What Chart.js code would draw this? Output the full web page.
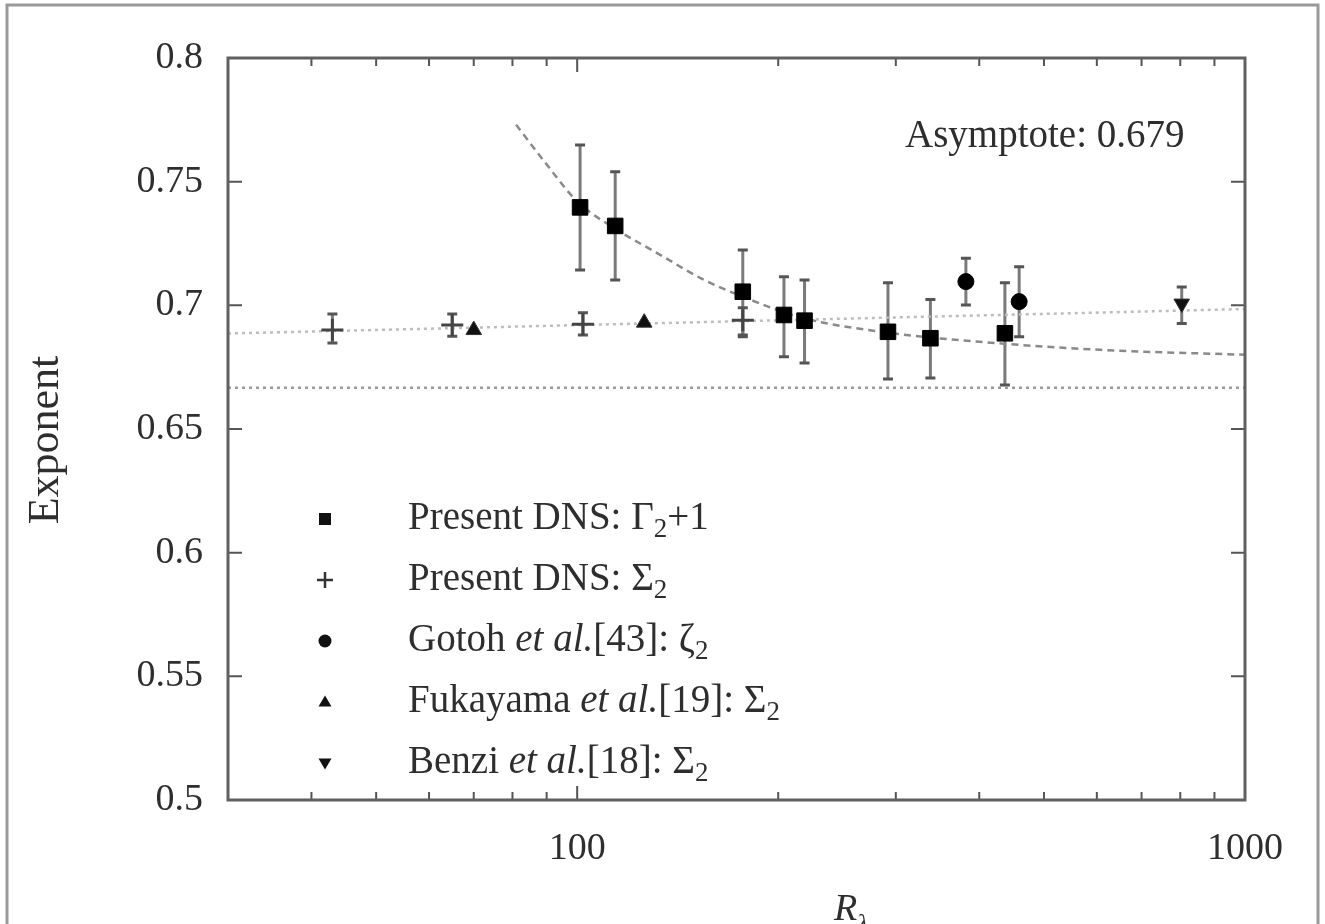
<!DOCTYPE html>
<html lang="en">
<head>
<meta charset="UTF-8">
<title>Exponent vs R_lambda</title>
<script src="https://cdn.jsdelivr.net/npm/chart.js"></script>
<style>
  html, body { margin: 0; padding: 0; background: #fff; overflow: hidden; }
  canvas { display: block; }
</style>
</head>
<body>
<canvas id="chart" width="1325" height="924"></canvas>
<script>
// Present DNS: Gamma_2 + 1 (with error bars)
const gammaR  = [101, 114, 177, 204, 219, 292, 338, 437];
const gammaY  = [0.7396, 0.7321, 0.7055, 0.6961, 0.6938, 0.6893, 0.6867, 0.6887];
const gammaLo = [0.7143, 0.7102, 0.6873, 0.6792, 0.6767, 0.6702, 0.6706, 0.6678];
const gammaHi = [0.7648, 0.7540, 0.7224, 0.7116, 0.7102, 0.7091, 0.7024, 0.7091];

// Present DNS: Sigma_2
const sigmaR  = [43, 65, 102, 177];
const sigmaY  = [0.690, 0.692, 0.6924, 0.694];
const sigmaLo = [0.6848, 0.6875, 0.688, 0.688];
const sigmaHi = [0.6965, 0.6965, 0.697, 0.699];

// Gotoh et al. [43]: zeta_2
const gotohR  = [382, 459];
const gotohY  = [0.7096, 0.7015];
const gotohLo = [0.7001, 0.6873];
const gotohHi = [0.7190, 0.7156];

// Fukayama et al. [19]: Sigma_2
const fukaR = [70, 126];
const fukaY = [0.690, 0.693];

// Benzi et al. [18]: Sigma_2
const benziR  = [804];
const benziY  = [0.7007];
const benziLo = [0.6927];
const benziHi = [0.7074];

// fitted curve
const fitR = [81, 90, 100, 114, 134, 153, 177, 217, 291, 435, 607, 1000];
const fitY = [0.773, 0.757, 0.742, 0.731, 0.720, 0.711, 0.7035, 0.695, 0.689, 0.6845, 0.682, 0.680];

// dotted reference lines
const trendR = [30, 1000];
const trendY = [0.6886, 0.6985];
const k41R = [30, 1000];
const k41Y = [0.6667, 0.6667];

// axes
const yTicks = [0.5, 0.55, 0.6, 0.65, 0.7, 0.75, 0.8];
const xTicks = [100, 1000];
const xMinorTicks = [40, 50, 60, 70, 80, 90, 200, 300, 400, 500, 600, 700, 800, 900];

const legendRuns = [
  [{t: 'Present DNS: \u0393'}, {t: '2', sub: true}, {t: '+1'}],
  [{t: 'Present DNS: \u03a3'}, {t: '2', sub: true}],
  [{t: 'Gotoh '}, {t: 'et al.', it: true}, {t: '[43]: \u03b6'}, {t: '2', sub: true}],
  [{t: 'Fukayama '}, {t: 'et al.', it: true}, {t: '[19]: \u03a3'}, {t: '2', sub: true}],
  [{t: 'Benzi '}, {t: 'et al.', it: true}, {t: '[18]: \u03a3'}, {t: '2', sub: true}]
];
const legendMarks = ['rect', 'cross', 'circle', 'triangle', 'triangleDown'];

const SERIF = '"Liberation Serif", "DejaVu Serif", serif';
const TEXT = '#2e2e2e';

const pts = (xs, ys) => xs.map((x, i) => ({x: x, y: ys[i]}));

function drawRuns(ctx, runs, x, y, size) {
  runs.forEach(r => {
    const fs = r.sub ? Math.round(size * 0.68) : size;
    ctx.font = (r.it ? 'italic ' : '') + fs + 'px ' + SERIF;
    ctx.fillText(r.t, x, y + (r.sub ? size * 0.28 : 0));
    x += ctx.measureText(r.t).width;
  });
}

function drawMark(ctx, kind, x, y, r) {
  ctx.beginPath();
  if (kind === 'rect') {
    ctx.fillRect(x - r, y - r, 2 * r, 2 * r);
  } else if (kind === 'cross') {
    ctx.moveTo(x - r, y); ctx.lineTo(x + r, y);
    ctx.moveTo(x, y - r); ctx.lineTo(x, y + r);
    ctx.stroke();
  } else if (kind === 'circle') {
    ctx.arc(x, y, r, 0, Math.PI * 2); ctx.fill();
  } else if (kind === 'triangle') {
    ctx.moveTo(x, y - r); ctx.lineTo(x + r, y + r * 0.7); ctx.lineTo(x - r, y + r * 0.7);
    ctx.closePath(); ctx.fill();
  } else {
    ctx.moveTo(x, y + r); ctx.lineTo(x + r, y - r * 0.7); ctx.lineTo(x - r, y - r * 0.7);
    ctx.closePath(); ctx.fill();
  }
}

const errorSets = [
  {r: gammaR, lo: gammaLo, hi: gammaHi},
  {r: sigmaR, lo: sigmaLo, hi: sigmaHi},
  {r: gotohR, lo: gotohLo, hi: gotohHi},
  {r: benziR, lo: benziLo, hi: benziHi}
];

const errorBars = {
  id: 'errorBars',
  beforeDatasetsDraw(chart) {
    const ctx = chart.ctx, xs = chart.scales.x, ys = chart.scales.y;
    ctx.save();
    errorSets.forEach(s => {
      s.r.forEach((r, i) => {
        const px = xs.getPixelForValue(r);
        const top = ys.getPixelForValue(s.hi[i]);
        const bot = ys.getPixelForValue(s.lo[i]);
        ctx.strokeStyle = '#7a7a7a';
        ctx.lineWidth = 3;
        ctx.beginPath(); ctx.moveTo(px, top); ctx.lineTo(px, bot); ctx.stroke();
        ctx.strokeStyle = '#555';
        ctx.beginPath();
        ctx.moveTo(px - 5, top); ctx.lineTo(px + 5, top);
        ctx.moveTo(px - 5, bot); ctx.lineTo(px + 5, bot);
        ctx.stroke();
      });
    });
    ctx.restore();
  }
};

const frame = {
  id: 'frame',
  beforeDraw(chart) {
    const ctx = chart.ctx;
    ctx.save();
    ctx.fillStyle = '#fff';
    ctx.fillRect(0, 0, chart.width, chart.height);
    ctx.strokeStyle = '#9a9a9a';
    ctx.lineWidth = 3;
    ctx.strokeRect(7, 5, 1311, 940);
    ctx.restore();
  },
  afterDraw(chart) {
    const ctx = chart.ctx, a = chart.chartArea, xs = chart.scales.x, ys = chart.scales.y;
    ctx.save();
    // ticks on all four sides, pointing inward
    ctx.strokeStyle = '#555';
    ctx.lineWidth = 2;
    ctx.beginPath();
    yTicks.forEach(v => {
      const py = ys.getPixelForValue(v);
      ctx.moveTo(a.left, py); ctx.lineTo(a.left + 14, py);
      ctx.moveTo(a.right, py); ctx.lineTo(a.right - 14, py);
    });
    xTicks.forEach(v => {
      const px = xs.getPixelForValue(v);
      ctx.moveTo(px, a.bottom); ctx.lineTo(px, a.bottom - 14);
      ctx.moveTo(px, a.top); ctx.lineTo(px, a.top + 14);
    });
    xMinorTicks.forEach(v => {
      const px = xs.getPixelForValue(v);
      ctx.moveTo(px, a.bottom); ctx.lineTo(px, a.bottom - 8);
      ctx.moveTo(px, a.top); ctx.lineTo(px, a.top + 8);
    });
    ctx.stroke();
    // plot box
    ctx.strokeStyle = '#606060';
    ctx.lineWidth = 3;
    ctx.strokeRect(a.left, a.top, a.right - a.left, a.bottom - a.top);

    // legend
    ctx.textBaseline = 'middle';
    ctx.textAlign = 'left';
    const rowY = [519, 580, 641, 702, 763];
    legendRuns.forEach((runs, i) => {
      ctx.fillStyle = '#111';
      ctx.strokeStyle = '#333';
      ctx.lineWidth = 2.5;
      const size = legendMarks[i] === 'rect' ? 6 : legendMarks[i] === 'cross' ? 8 : 6.5;
      drawMark(ctx, legendMarks[i], 325, rowY[i], size);
      ctx.fillStyle = TEXT;
      drawRuns(ctx, runs, 408, rowY[i], 39);
    });

    // annotation
    ctx.fillStyle = TEXT;
    ctx.font = '39px ' + SERIF;
    ctx.fillText('Asymptote: 0.679', 905, 137);

    // y title
    ctx.save();
    ctx.translate(46, 440);
    ctx.rotate(-Math.PI / 2);
    ctx.textAlign = 'center';
    ctx.font = '44px ' + SERIF;
    ctx.fillText('Exponent', 0, 0);
    ctx.restore();

    // x title
    ctx.textAlign = 'left';
    ctx.textBaseline = 'alphabetic';
    ctx.font = 'italic 38px ' + SERIF;
    ctx.fillText('R', 834, 920);
    ctx.font = 'italic 26px ' + SERIF;
    ctx.fillText('\u03bb', 857, 932);
    ctx.restore();
  }
};

new Chart(document.getElementById('chart'), {
  type: 'scatter',
  data: {
    datasets: [
      {label: 'Present DNS: \u03932+1', data: pts(gammaR, gammaY), pointStyle: 'rect', pointRadius: 11,
       backgroundColor: '#000', borderColor: '#000', borderWidth: 1, order: 1},
      {label: 'Present DNS: \u03a32', data: pts(sigmaR, sigmaY), pointStyle: 'cross', pointRadius: 11,
       borderColor: '#444', borderWidth: 3, order: 2},
      {label: 'Gotoh et al.[43]: \u03b62', data: pts(gotohR, gotohY), pointStyle: 'circle', pointRadius: 8,
       backgroundColor: '#000', borderColor: '#000', borderWidth: 1, order: 1},
      {label: 'Fukayama et al.[19]: \u03a32', data: pts(fukaR, fukaY), pointStyle: 'triangle', pointRadius: 9,
       backgroundColor: '#111', borderColor: '#333', borderWidth: 1, order: 1},
      {label: 'Benzi et al.[18]: \u03a32', data: pts(benziR, benziY), pointStyle: 'triangle', rotation: 180,
       pointRadius: 9, backgroundColor: '#111', borderColor: '#333', borderWidth: 1, order: 1},
      {label: 'fit', data: pts(fitR, fitY), showLine: true, pointRadius: 0, borderColor: '#8a8a8a',
       borderWidth: 2.5, borderDash: [7, 5], cubicInterpolationMode: 'monotone', order: 10},
      {label: 'trend', data: pts(trendR, trendY), showLine: true, pointRadius: 0, borderColor: '#bdbdbd',
       borderWidth: 2.5, borderDash: [3, 4], order: 11},
      {label: 'K41', data: pts(k41R, k41Y), showLine: true, pointRadius: 0, borderColor: '#9a9a9a',
       borderWidth: 2.5, borderDash: [3, 4], order: 11}
    ]
  },
  options: {
    responsive: false,
    animation: false,
    layout: {padding: {left: 0, top: 58, right: 80, bottom: 0}},
    plugins: {legend: {display: false}, tooltip: {enabled: false}},
    scales: {
      x: {
        type: 'logarithmic', min: 30, max: 1000,
        grid: {display: false, drawTicks: false},
        border: {display: false},
        afterBuildTicks: s => { s.ticks = xTicks.map(v => ({value: v})); },
        afterFit: s => { s.height = 124; },
        ticks: {color: TEXT, padding: 26, maxRotation: 0, font: {family: SERIF, size: 38},
                callback: v => String(v)}
      },
      y: {
        type: 'linear', min: 0.5, max: 0.8,
        grid: {display: false, drawTicks: false},
        border: {display: false},
        afterBuildTicks: s => { s.ticks = yTicks.map(v => ({value: v})); },
        afterFit: s => { s.width = 228; },
        ticks: {color: TEXT, padding: 25, font: {family: SERIF, size: 38},
                callback: v => String(+v.toFixed(2))}
      }
    }
  },
  plugins: [frame, errorBars]
});
</script>
</body>
</html>
